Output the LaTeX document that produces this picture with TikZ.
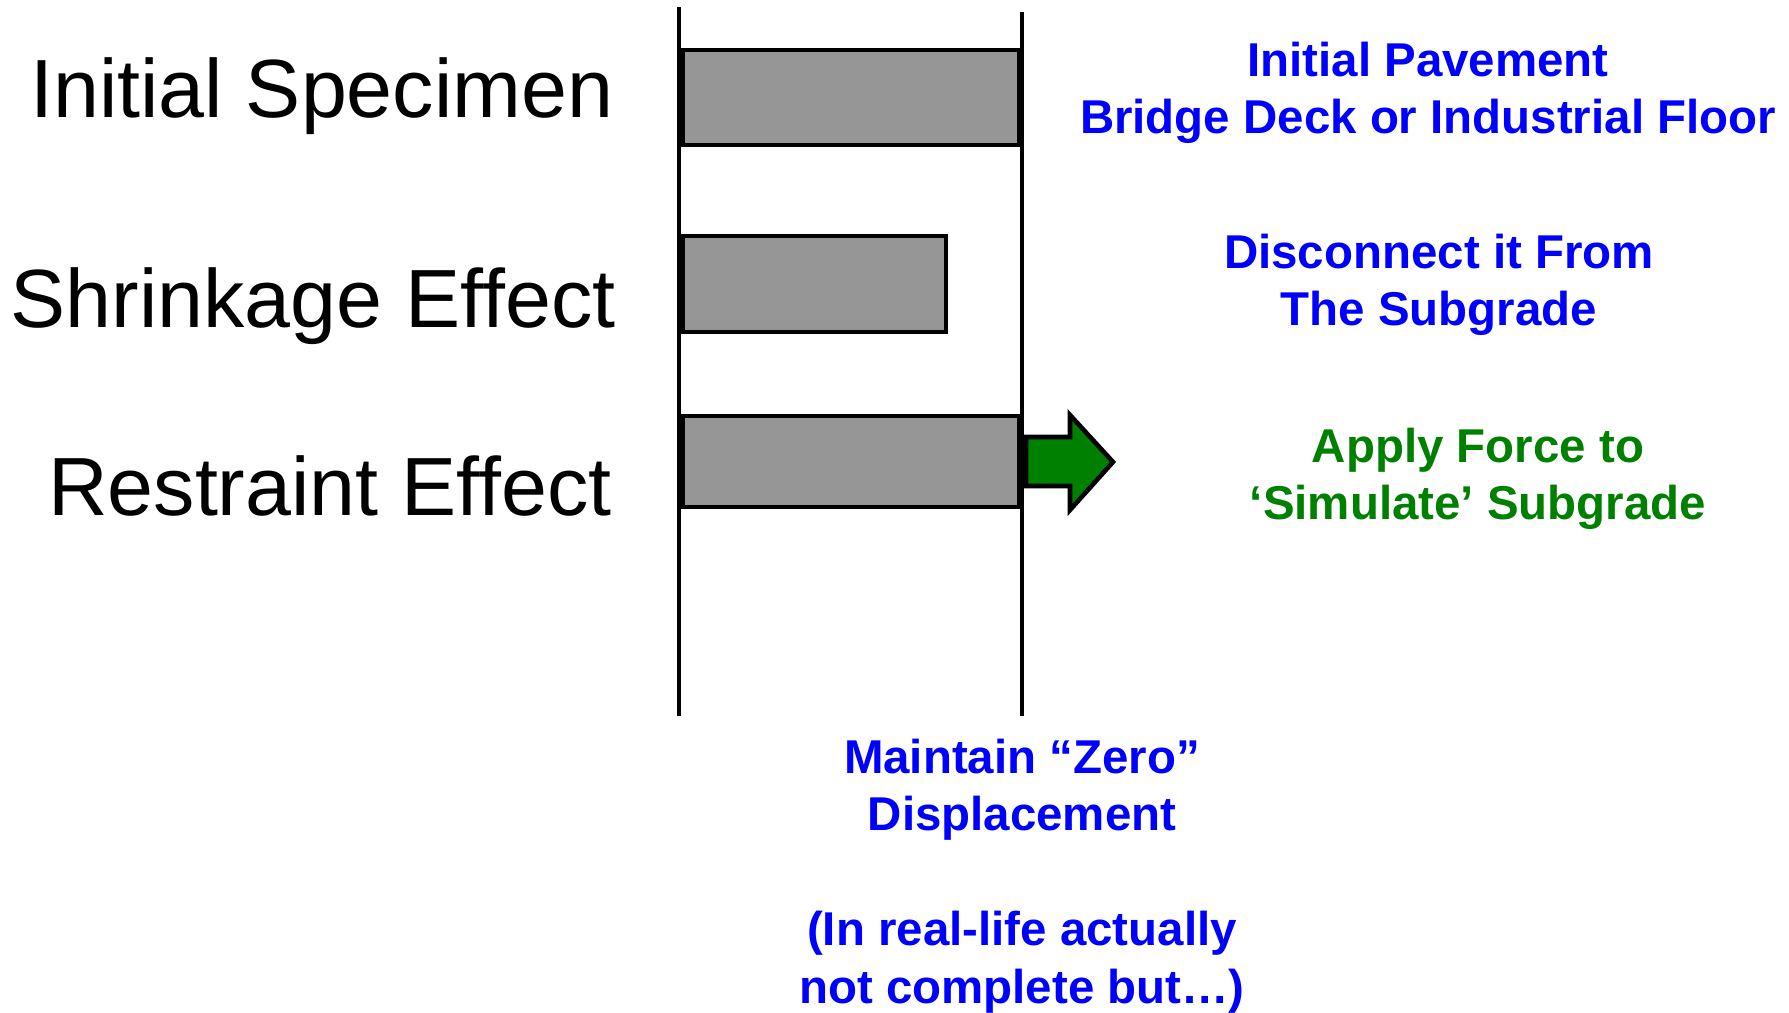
\documentclass[tikz,border=0pt]{standalone}
\usepackage{fontspec}
\setmainfont{Liberation Sans}
\definecolor{barfill}{RGB}{150,150,150}
\definecolor{notegreen}{RGB}{0,128,0}
\tikzset{
    slab/.style={draw=black, line width=1.3pt, fill=barfill},
    effect/.style={anchor=base east, inner sep=0pt, font=\fontsize{23.5}{28}\selectfont},
    note/.style={anchor=north, inner sep=0pt, align=center, text=blue,
        font=\fontsize{13.5}{16.4}\selectfont\bfseries},
}
\begin{document}
\begin{tikzpicture}
    \useasboundingbox (0,0) rectangle (17.89,10.13);

    % --- LEFT: LABELS ---
    \node[effect] (initial) at (6.14, 8.955) {Initial Specimen};
    \node[effect] (shrink) at (6.16, 6.855) {Shrinkage Effect};
    \node[effect] (restraint) at (6.12, 4.973) {Restraint Effect};

    % --- MIDDLE: WALLS AND SLABS ---
    \coordinate (wallLtop) at (6.79, 10.06);
    \coordinate (wallLbot) at (6.79, 2.97);
    \coordinate (wallRtop) at (10.22, 10.01);
    \coordinate (wallRbot) at (10.22, 2.97);
    \draw[line width=1.2pt] (wallLtop) -- (wallLbot);
    \draw[line width=1.2pt] (wallRtop) -- (wallRbot);

    \draw[slab] (6.83, 9.63) rectangle (10.19, 8.68);
    \draw[slab] (6.83, 7.77) rectangle (9.46, 6.81);
    \draw[slab] (6.83, 5.97) rectangle (10.19, 5.06);

    % The force arrow
    \draw[line width=1.3pt, line join=miter, fill=notegreen]
        (10.26, 5.76) -- (10.70, 5.76) -- (10.70, 5.98) -- (11.13, 5.51)
        -- (10.70, 5.03) -- (10.70, 5.27) -- (10.26, 5.27) -- cycle;

    % --- RIGHT: NOTES ---
    \node[note] (pavement) at (14.28, 9.72)
        {Initial Pavement\\Bridge Deck or Industrial Floor};
    \node[note] (disconnect) at (14.39, 7.80)
        {Disconnect it From\\The Subgrade};
    \node[note, text=notegreen] (force) at (14.78, 5.86)
        {Apply Force to\\‘Simulate’ Subgrade};

    % --- BOTTOM NOTE ---
    \node[note] (zero) at (10.22, 2.75)
        {Maintain “Zero”\\Displacement\\[16.4pt](In real-life actually\\not complete but…)};
\end{tikzpicture}
\end{document}
